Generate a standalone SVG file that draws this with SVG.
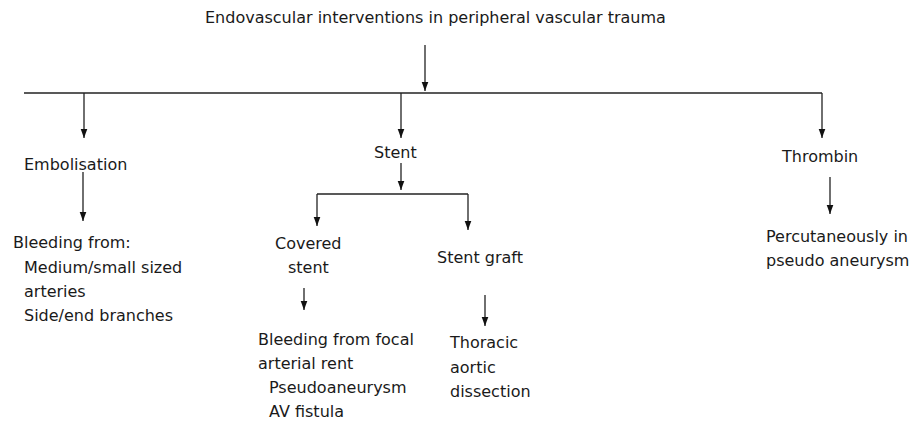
<svg xmlns="http://www.w3.org/2000/svg" width="912" height="423" viewBox="0 0 912 423">
<style>
text{font-family:"DejaVu Sans",Verdana,sans-serif;font-size:16px;fill:#1a1a1a}
.c{stroke:#222;stroke-width:1.3;fill:none}
.a{marker-end:url(#ah)}
</style>
<defs>
<marker id="ah" markerUnits="userSpaceOnUse" markerWidth="10" markerHeight="8" refX="9" refY="4" orient="auto" viewBox="0 0 10 8">
<path d="M0,0.7 L9,4 L0,7.3 Z" fill="#111"/>
</marker>
</defs>
<g id="connectors">
<line class="c a" x1="425" y1="45" x2="425" y2="91"/>
<line class="c" x1="24" y1="93" x2="822" y2="93"/>
<line class="c a" x1="84" y1="93" x2="84" y2="138"/>
<line class="c a" x1="401" y1="93" x2="401" y2="138"/>
<line class="c a" x1="822" y1="93" x2="822" y2="138"/>
<line class="c a" x1="83" y1="172" x2="83" y2="221"/>
<line class="c a" x1="401" y1="163" x2="401" y2="190"/>
<line class="c" x1="317" y1="194" x2="468" y2="194"/>
<line class="c a" x1="317" y1="194" x2="317" y2="226"/>
<line class="c a" x1="468" y1="194" x2="468" y2="230"/>
<line class="c a" x1="304" y1="288" x2="304" y2="310"/>
<line class="c a" x1="485" y1="295" x2="485" y2="326"/>
<line class="c a" x1="830" y1="177" x2="830" y2="214"/>
</g>
<g id="title"><text x="205" y="23">Endovascular interventions in peripheral vascular trauma</text></g>
<g id="embolisation"><text x="24" y="170">Embolisation</text></g>
<g id="stent"><text x="374" y="158">Stent</text></g>
<g id="thrombin"><text x="782" y="162">Thrombin</text></g>
<g id="bleeding"><text x="13" y="248">Bleeding from:</text><text x="24" y="273">Medium/small sized</text><text x="24" y="297">arteries</text><text x="24" y="321">Side/end branches</text></g>
<g id="covered"><text x="275" y="249">Covered</text><text x="288" y="273">stent</text></g>
<g id="graft"><text x="437" y="263">Stent graft</text></g>
<g id="focal"><text x="258" y="345">Bleeding from focal</text><text x="258" y="369">arterial rent</text><text x="269" y="393">Pseudoaneurysm</text><text x="269" y="417">AV fistula</text></g>
<g id="thoracic"><text x="450" y="348">Thoracic</text><text x="450" y="373">aortic</text><text x="450" y="397">dissection</text></g>
<g id="percutaneous"><text x="766" y="242">Percutaneously in</text><text x="766" y="266">pseudo aneurysm</text></g>
</svg>
